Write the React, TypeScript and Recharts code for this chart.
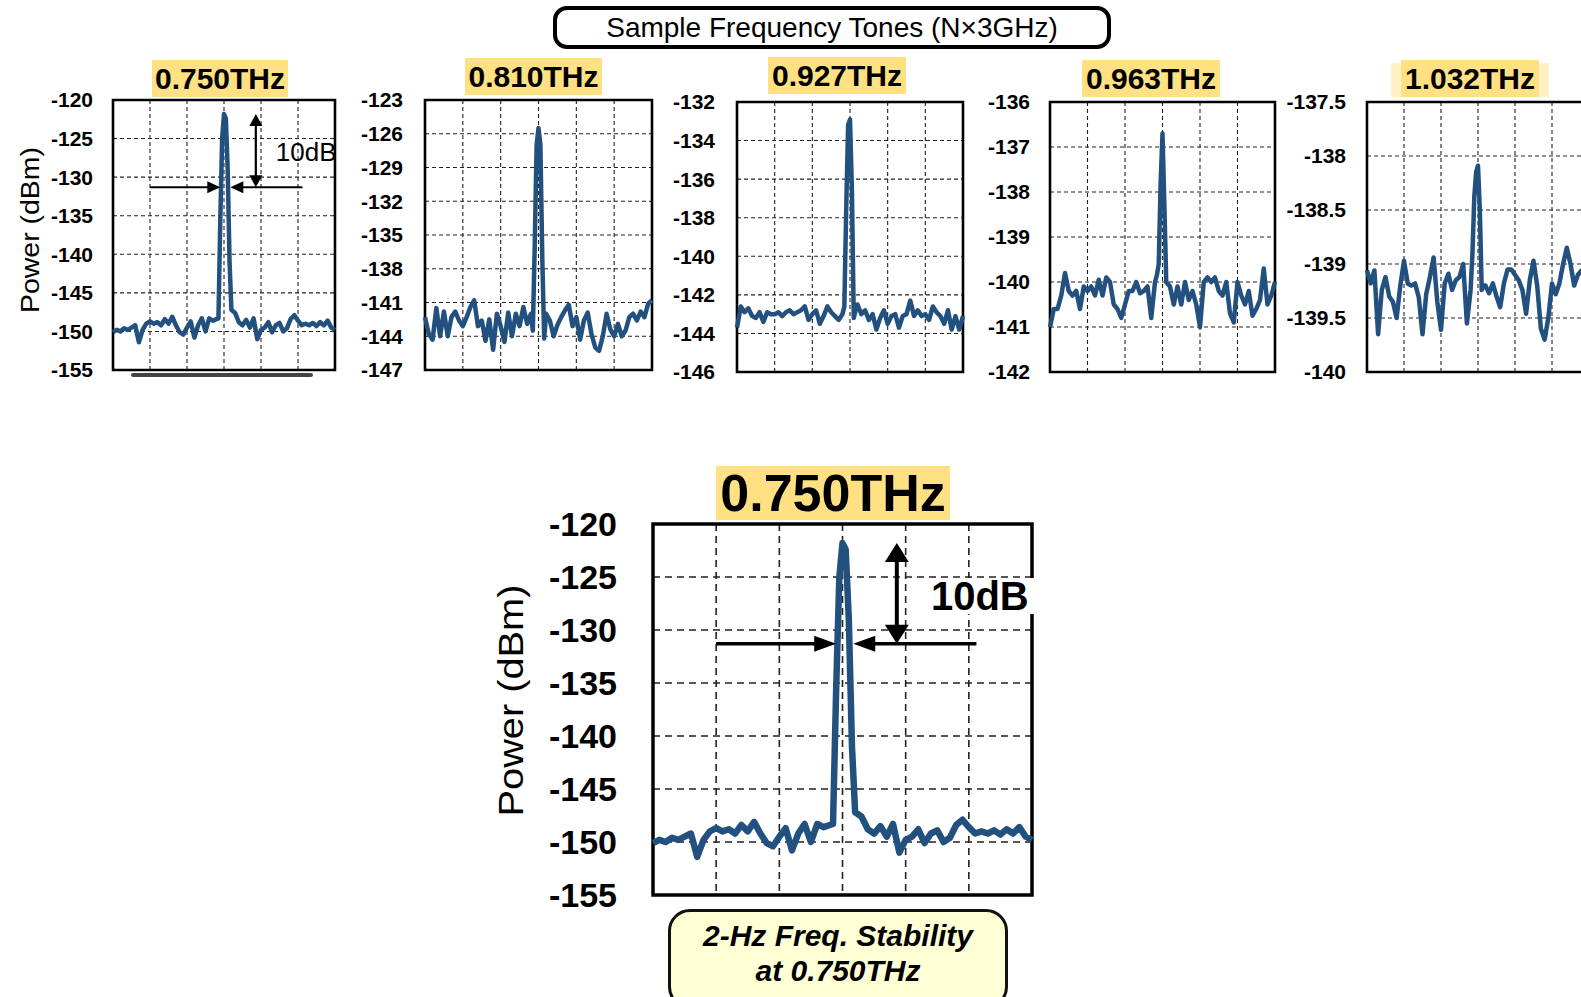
import React from "react";
import {
  LineChart,
  Line,
  XAxis,
  YAxis,
  CartesianGrid,
  ReferenceArea,
  ReferenceLine,
  ReferenceDot,
} from "recharts";

// frequency offset grid (6 divisions across each panel, finer around the tone)
const freqX = [
  0, 0.1, 0.2, 0.3, 0.4, 0.5, 0.6, 0.7, 0.8, 0.9,
  1.0, 1.1, 1.2, 1.3, 1.4, 1.5, 1.6, 1.7, 1.8, 1.9,
  2.0, 2.1, 2.2, 2.3, 2.4, 2.5, 2.6, 2.7, 2.8,
  2.85, 2.9, 2.95, 3.0, 3.05, 3.1, 3.15,
  3.2, 3.3, 3.4, 3.5, 3.6, 3.7, 3.8, 3.9,
  4.0, 4.1, 4.2, 4.3, 4.4, 4.5, 4.6, 4.7, 4.8, 4.9,
  5.0, 5.1, 5.2, 5.3, 5.4, 5.5, 5.6, 5.7, 5.8, 5.9, 6.0,
];
const xGridTicks = [0, 1, 2, 3, 4, 5, 6];

const tone750 = [
  -150.1, -149.8, -150.0, -149.6, -149.8, -149.5, -149.2, -151.4, -149.8, -149.0,
  -148.7, -149.0, -148.8, -149.2, -148.4, -149.0, -148.1, -149.2, -150.1, -150.4,
  -149.5, -148.7, -150.8, -149.2, -148.3, -150.0, -148.3, -148.6, -148.4,
  -148.3, -135.5, -125.0, -121.8, -122.4, -129.0, -141.0,
  -147.2, -147.6, -148.8, -149.2, -148.5, -149.5, -148.3, -151.0,
  -149.8, -149.5, -148.8, -150.1, -149.2, -148.9, -150.0, -149.6, -148.4, -147.9,
  -148.6, -149.2, -149.0, -149.2, -148.9, -149.3, -148.8, -149.2, -148.6, -149.5, -149.8,
];
const tone810 = [
  -142.3, -143.8, -144.3, -141.5, -144.0, -141.8, -144.0, -142.3, -141.8, -142.6,
  -143.1, -142.3, -141.4, -140.8, -143.1, -142.6, -144.4, -142.5, -145.2, -142.0,
  -143.1, -144.5, -141.9, -144.0, -142.0, -143.1, -141.4, -142.9, -142.0,
  -143.5, -136.0, -127.0, -125.5, -127.0, -137.0, -144.2,
  -142.0, -142.6, -144.0, -143.0, -142.3, -141.7, -141.2, -143.1,
  -142.3, -144.3, -142.6, -141.9, -143.8, -145.0, -145.3, -144.0, -142.0, -143.4,
  -144.0, -142.9, -144.0, -143.5, -142.3, -142.0, -142.6, -141.8, -142.3, -141.1, -140.8,
];
const tone927 = [
  -143.7, -142.6, -142.9, -142.7, -143.1, -143.2, -142.9, -143.4, -142.9, -143.0,
  -143.0, -142.9, -143.1, -142.9, -142.8, -143.0, -142.9, -142.8, -142.6, -143.3,
  -143.0, -142.8, -143.5, -143.1, -142.6, -142.9, -143.1, -143.3, -143.0,
  -142.6, -137.5, -133.2, -132.9, -136.5, -143.2, -142.8,
  -142.5, -143.0, -142.8, -143.3, -143.0, -143.8, -143.2, -142.8,
  -143.5, -143.1, -143.0, -143.7, -143.1, -143.0, -142.3, -143.1, -142.8, -143.1,
  -143.0, -143.3, -142.6, -142.9, -143.1, -143.5, -142.8, -143.8, -143.1, -143.8, -143.1,
];
const tone963 = [
  -141.0, -140.6, -140.6, -140.3, -139.8, -140.2, -140.3, -140.2, -140.6, -140.1,
  -140.2, -140.1, -140.3, -139.95, -140.3, -139.9, -140.0, -140.5, -140.6, -140.8,
  -140.5, -140.2, -140.2, -140.0, -140.25, -140.2, -140.1, -140.8, -140.0,
  -139.85, -139.6, -137.8, -136.7, -138.3, -140.0, -140.05,
  -140.1, -140.5, -140.1, -140.5, -140.0, -140.4, -140.2, -140.5,
  -141.0, -140.0, -139.9, -140.0, -139.9, -140.2, -140.3, -140.0, -140.7, -140.9,
  -140.0, -140.3, -140.5, -140.2, -140.75, -140.6, -140.4, -139.7, -140.5, -140.3, -140.0,
];
const tone1032 = [
  -139.06, -139.18, -139.06, -139.65, -139.24, -139.12, -139.3, -139.35, -139.5, -139.2,
  -138.97, -139.18, -139.2, -139.18, -139.31, -139.65, -139.28, -139.12, -138.94, -139.35,
  -139.61, -139.18, -139.09, -139.24, -139.15, -139.12, -139.0, -139.55, -139.24,
  -138.9, -138.38, -138.15, -138.09, -138.5, -139.24, -139.2,
  -139.2, -139.27, -139.18, -139.3, -139.4, -139.18, -139.05, -139.05,
  -139.1, -139.15, -139.24, -139.46, -139.15, -138.97, -139.2, -139.6, -139.7, -139.5,
  -139.18, -139.28, -139.18, -139.0, -138.85, -139.0, -139.2, -139.1, -139.06, -139.1, -139.15,
];

const ticks750 = [-120, -125, -130, -135, -140, -145, -150, -155];
const ticks810 = [-123, -126, -129, -132, -135, -138, -141, -144, -147];
const ticks927 = [-132, -134, -136, -138, -140, -142, -144, -146];
const ticks963 = [-136, -137, -138, -139, -140, -141, -142];
const ticks1032 = [-137.5, -138, -138.5, -139, -139.5, -140];

const toneLabels = ["0.750THz", "0.810THz", "0.927THz", "0.963THz", "1.032THz"];

const FONT = "'Liberation Sans', Arial, Helvetica, sans-serif";
const TRACE = "#23517f";
const HIGHLIGHT = "#ffe083";

// arrow drawn along a reference segment, head at the end (and at the start if both)
const arrowShape = (both: boolean, head: number, half: number, width: number) => (p: any) => {
  const { x1, y1, x2, y2 } = p;
  const len = Math.hypot(x2 - x1, y2 - y1) || 1;
  const ux = (x2 - x1) / len;
  const uy = (y2 - y1) / len;
  const tri = (tx: number, ty: number, dx: number, dy: number) => {
    const bx = tx - dx * head;
    const by = ty - dy * head;
    return `${tx},${ty} ${bx - dy * half},${by + dx * half} ${bx + dy * half},${by - dx * half}`;
  };
  return (
    <g>
      <line
        x1={both ? x1 + ux * head * 0.8 : x1}
        y1={both ? y1 + uy * head * 0.8 : y1}
        x2={x2 - ux * head * 0.8}
        y2={y2 - uy * head * 0.8}
        stroke="#000"
        strokeWidth={width}
      />
      <polygon points={tri(x2, y2, ux, uy)} fill="#000" />
      {both && <polygon points={tri(x1, y1, -ux, -uy)} fill="#000" />}
    </g>
  );
};

interface PanelProps {
  values: number[];
  yMin: number;
  yMax: number;
  ticks: number[];
  left: number;
  top: number;
  w: number;
  h: number;
  gap: number;
  tickFont: number;
  big?: boolean;
  annotate?: boolean;
  axisLabel?: { dx: number; dy: number; size: number; length: number };
}

const SpectrumPanel = ({
  values,
  yMin,
  yMax,
  ticks,
  left,
  top,
  w,
  h,
  gap,
  tickFont,
  big = false,
  annotate = false,
  axisLabel,
}: PanelProps) => {
  const AX = big ? 180 : 100;
  const PAD = 24;
  const data = freqX.map((x, i) => ({ x, p: values[i] }));
  const arrowH = big ? arrowShape(false, 22, 8, 3.5) : arrowShape(false, 13, 6, 2);
  const arrowV = big ? arrowShape(true, 19, 12, 4) : arrowShape(true, 12, 6.5, 2.2);

  return (
    <div style={{ position: "absolute", left: left - AX, top: top - PAD }}>
      <LineChart
        width={w + AX + PAD}
        height={h + 2 * PAD}
        data={data}
        margin={{ top: PAD, right: PAD, bottom: PAD, left: 0 }}
      >
        <CartesianGrid
          stroke="#222"
          strokeWidth={big ? 1.6 : 1.1}
          strokeDasharray={big ? "7 5" : "4 3"}
        />
        <XAxis type="number" dataKey="x" domain={[0, 6]} ticks={xGridTicks} hide />
        <YAxis
          type="number"
          domain={[yMin, yMax]}
          ticks={ticks}
          interval={0}
          width={AX}
          axisLine={false}
          tickLine={false}
          tickSize={0}
          tickMargin={gap}
          tick={{ fill: "#000", fontSize: tickFont, fontWeight: 700, fontFamily: FONT }}
          label={
            axisLabel
              ? (lp: any) => {
                  const vb = lp.viewBox;
                  const cx = vb.x + vb.width + axisLabel.dx;
                  const cy = vb.y + vb.height / 2 + axisLabel.dy;
                  return (
                    <text
                      x={cx}
                      y={cy}
                      transform={`rotate(-90 ${cx} ${cy})`}
                      textAnchor="middle"
                      dominantBaseline="central"
                      fontSize={axisLabel.size}
                      fontFamily={FONT}
                      textLength={axisLabel.length}
                      lengthAdjust="spacingAndGlyphs"
                      fill="#000"
                    >
                      Power (dBm)
                    </text>
                  );
                }
              : undefined
          }
        />
        <ReferenceArea
          x1={0}
          x2={6}
          y1={yMin}
          y2={yMax}
          fill="none"
          stroke="#000"
          strokeWidth={big ? 3.5 : 2.6}
          ifOverflow="visible"
        />
        <Line
          dataKey="p"
          type="linear"
          stroke={TRACE}
          strokeWidth={big ? 6.5 : 4.5}
          strokeLinejoin="round"
          dot={false}
          isAnimationActive={false}
        />
        {annotate && (
          <ReferenceLine
            segment={[{ x: 1.0, y: -131.3 }, { x: 2.9, y: -131.3 }]}
            shape={arrowH}
            ifOverflow="visible"
          />
        )}
        {annotate && (
          <ReferenceLine
            segment={[{ x: 5.12, y: -131.3 }, { x: 3.17, y: -131.3 }]}
            shape={arrowH}
            ifOverflow="visible"
          />
        )}
        {annotate && (
          <ReferenceLine
            segment={[{ x: 3.86, y: -131.3 }, { x: 3.86, y: -121.8 }]}
            shape={arrowV}
            ifOverflow="visible"
          />
        )}
        {annotate && (
          <ReferenceDot
            x={4.4}
            y={-126.8}
            r={1}
            ifOverflow="visible"
            shape={(dp: any) => (
              <g>
                {big && <rect x={dp.cx - 2} y={dp.cy - 18} width={112} height={36} fill="#fff" />}
                <text
                  x={dp.cx}
                  y={dp.cy}
                  dominantBaseline="central"
                  fontSize={big ? 40 : 26}
                  fontWeight={big ? 700 : 400}
                  fontFamily={FONT}
                  fill="#000"
                >
                  10dB
                </text>
              </g>
            )}
          />
        )}
      </LineChart>
    </div>
  );
};

const ToneTitle = ({
  text,
  left,
  top,
  w,
  h,
  size,
}: {
  text: string;
  left: number;
  top: number;
  w: number;
  h: number;
  size: number;
}) => (
  <div
    style={{
      position: "absolute",
      left,
      top,
      width: w,
      height: h,
      background: HIGHLIGHT,
      display: "flex",
      alignItems: "center",
      justifyContent: "center",
      fontFamily: FONT,
      fontWeight: 700,
      fontSize: size,
      color: "#000",
      lineHeight: 1,
    }}
  >
    {text}
  </div>
);

export default function App() {
  return (
    <div
      style={{
        position: "absolute",
        left: 0,
        top: 0,
        width: 1581,
        height: 997,
        overflow: "hidden",
        background: "#fff",
        fontFamily: FONT,
      }}
    >
      {/* header box */}
      <div
        style={{
          position: "absolute",
          left: 553,
          top: 6,
          width: 558,
          height: 43,
          boxSizing: "border-box",
          border: "4px solid #000",
          borderRadius: 14,
          display: "flex",
          alignItems: "center",
          justifyContent: "center",
          fontSize: 28,
          color: "#000",
        }}
      >
        Sample Frequency Tones (N×3GHz)
      </div>

      {/* tone titles */}
      <ToneTitle text={toneLabels[0]} left={152} top={60} w={136} h={37} size={30} />
      <ToneTitle text={toneLabels[1]} left={465} top={58} w={137} h={37} size={30} />
      <ToneTitle text={toneLabels[2]} left={768} top={57} w={138} h={37} size={30} />
      <ToneTitle text={toneLabels[3]} left={1082} top={60} w={138} h={37} size={30} />
      <div
        style={{
          position: "absolute",
          left: 1391,
          top: 63,
          width: 158,
          height: 34,
          background: "#fff1c4",
        }}
      />
      <ToneTitle text={toneLabels[4]} left={1401} top={60} w={138} h={37} size={30} />
      <ToneTitle text={toneLabels[0]} left={716} top={466} w={234} h={54} size={52} />

      {/* top row */}
      <SpectrumPanel
        values={tone750}
        yMin={-155}
        yMax={-120}
        ticks={ticks750}
        left={113}
        top={100}
        w={222}
        h={270}
        gap={20}
        tickFont={21}
        annotate
        axisLabel={{ dx: -83, dy: -5, size: 26, length: 166 }}
      />
      <SpectrumPanel
        values={tone810}
        yMin={-147}
        yMax={-123}
        ticks={ticks810}
        left={425}
        top={100}
        w={227}
        h={270}
        gap={22}
        tickFont={21}
      />
      <SpectrumPanel
        values={tone927}
        yMin={-146}
        yMax={-132}
        ticks={ticks927}
        left={737}
        top={102}
        w={226}
        h={270}
        gap={22}
        tickFont={21}
      />
      <SpectrumPanel
        values={tone963}
        yMin={-142}
        yMax={-136}
        ticks={ticks963}
        left={1050}
        top={102}
        w={225}
        h={270}
        gap={20}
        tickFont={21}
      />
      <SpectrumPanel
        values={tone1032}
        yMin={-140}
        yMax={-137.5}
        ticks={ticks1032}
        left={1367}
        top={102}
        w={222}
        h={270}
        gap={21}
        tickFont={21}
      />
      <div
        style={{
          position: "absolute",
          left: 131,
          top: 373,
          width: 182,
          height: 4,
          background: "#444",
          borderRadius: 2,
        }}
      />

      {/* enlarged 0.750THz panel */}
      <SpectrumPanel
        values={tone750}
        yMin={-155}
        yMax={-120}
        ticks={ticks750}
        left={653}
        top={524}
        w={379}
        h={371}
        gap={36}
        tickFont={34}
        big
        annotate
        axisLabel={{ dx: -143, dy: -9, size: 35, length: 232 }}
      />

      {/* caption */}
      <div
        style={{
          position: "absolute",
          left: 668,
          top: 909,
          width: 340,
          height: 100,
          boxSizing: "border-box",
          border: "3px solid #111",
          borderRadius: 22,
          background: "#ffffd6",
          paddingTop: 6,
          textAlign: "center",
          fontWeight: 700,
          fontStyle: "italic",
          fontSize: 30,
          lineHeight: "35px",
          color: "#000",
        }}
      >
        2-Hz Freq. Stability
        <br />
        at 0.750THz
      </div>
    </div>
  );
}
